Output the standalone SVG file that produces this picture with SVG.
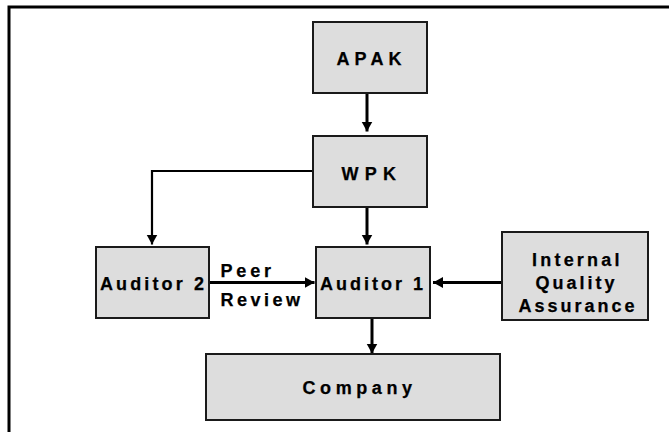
<svg xmlns="http://www.w3.org/2000/svg" width="669" height="432" viewBox="0 0 669 432">
  <style>
    .box { fill: #dddddd; stroke: #1a1a1a; stroke-width: 2; }
    .lbl { font-family: "Liberation Sans", Arial, sans-serif; font-weight: bold; font-size: 18px; fill: #000; stroke: #000; stroke-width: 0.25; }
    .wire { fill: none; stroke: #000; stroke-width: 3; }
    .thin { stroke-width: 2.2; }
    .frame { fill: none; stroke: #000; stroke-width: 3; }
  </style>
  <defs>
    <marker id="arrow" markerUnits="userSpaceOnUse" markerWidth="11" markerHeight="12" refX="10" refY="5.5" orient="auto">
      <path d="M0,0 L10,5.5 L0,11 Z" fill="#000"/>
    </marker>
  </defs>

  <rect width="669" height="432" fill="#fff"/>
  <!-- open frame: top and left edges only -->
  <path class="frame" d="M9,432 V7 H669"/>

  <g id="connectors">
    <path class="wire" d="M367,93 V131.5" marker-end="url(#arrow)"/>
    <path class="wire thin" d="M313,171 H152 V244.5" marker-end="url(#arrow)"/>
    <path class="wire" d="M367,207 V244.5" marker-end="url(#arrow)"/>
    <path class="wire" d="M209,282.5 H314.5" marker-end="url(#arrow)"/>
    <path class="wire" d="M502,282.5 H433" marker-end="url(#arrow)"/>
    <path class="wire" d="M372,318 V353.5" marker-end="url(#arrow)"/>
  </g>

  <g id="apak">
    <rect class="box" x="313" y="22" width="114" height="71"/>
    <text class="lbl" x="336.5" y="65" textLength="65" lengthAdjust="spacing">APAK</text>
  </g>

  <g id="wpk">
    <rect class="box" x="313" y="136" width="114" height="71"/>
    <text class="lbl" x="341.5" y="179.5" textLength="54.5" lengthAdjust="spacing">WPK</text>
  </g>

  <g id="auditor2">
    <rect class="box" x="96" y="247" width="113" height="71"/>
    <text class="lbl" x="100" y="289.5" textLength="104" lengthAdjust="spacing">Auditor 2</text>
  </g>

  <g id="peer-review">
    <text class="lbl" x="220.5" y="277" textLength="50.5" lengthAdjust="spacing">Peer</text>
    <text class="lbl" x="220.5" y="306" textLength="79.5" lengthAdjust="spacing">Review</text>
  </g>

  <g id="auditor1">
    <rect class="box" x="316" y="247" width="114" height="71"/>
    <text class="lbl" x="320" y="290" textLength="103" lengthAdjust="spacing">Auditor 1</text>
  </g>

  <g id="iqa">
    <rect class="box" x="502" y="232" width="146" height="88"/>
    <text class="lbl" x="532" y="265.5" textLength="87.5" lengthAdjust="spacing">Internal</text>
    <text class="lbl" x="535.5" y="288.5" textLength="79" lengthAdjust="spacing">Quality</text>
    <text class="lbl" x="518.5" y="311.5" textLength="116" lengthAdjust="spacing">Assurance</text>
  </g>

  <g id="company">
    <rect class="box" x="206" y="354" width="294" height="66"/>
    <text class="lbl" x="302.5" y="393.5" textLength="109.5" lengthAdjust="spacing">Company</text>
  </g>
</svg>
